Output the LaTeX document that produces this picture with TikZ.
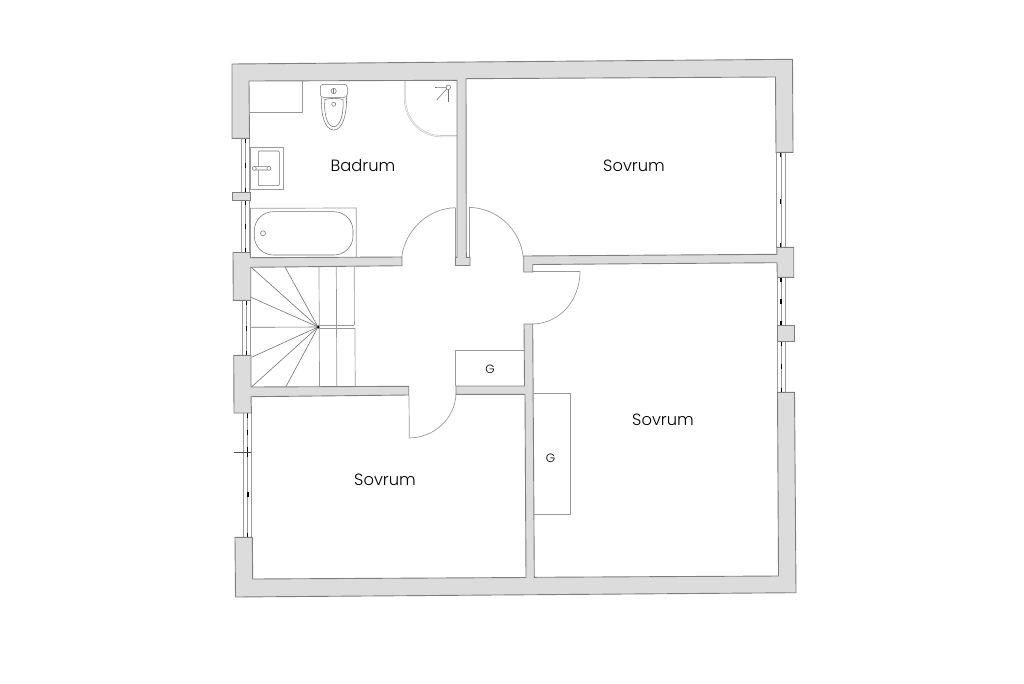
\documentclass[tikz,border=0pt]{standalone}
\usepackage{fontspec}
\setmainfont{Poppins Light}
\definecolor{wallfill}{HTML}{DCDCDC}
\definecolor{walledge}{HTML}{7E7E7E}
\definecolor{thin}{HTML}{999999}
\tikzset{
  wall/.style={fill=wallfill,draw=walledge,line width=0.9pt,line join=miter},
  fine/.style={draw=thin,line width=0.7pt},
  fix/.style={draw=black!55,line width=0.55pt},
  shower/.style={draw=black!22,line width=0.6pt},
  dashmark/.style={draw=black,line width=1.3pt},
  roomlabel/.style={font=\fontsize{16.3}{16.3}\selectfont,text=black,inner sep=0pt},
  gaplabel/.style={font=\fontsize{12}{12}\selectfont,text=black,inner sep=0pt}
}
\begin{document}
\begin{tikzpicture}[x=1pt,y=-1pt]
\useasboundingbox (0,0) rectangle (1024,683);
% windows
\foreach \xa/\xb/\xc/\ya/\yb in {241.3/249.5/245.4/138/193, 241.5/249.7/245.6/200/253, 242.5/250.5/246.5/300/356, 243/251.5/247.5/413/538, 776.5/785/780.7/152/248, 777/785.3/781/277/326, 777.5/785.7/781.5/341/393}{
  \draw[fine] (\xa,\ya) -- (\xa,\yb);
  \draw[fine] (\xb,\ya) -- (\xb,\yb);
  \draw[draw=thin,line width=0.4pt] (\xc,\ya) -- (\xc,\yb);
  \draw[dashmark] (\xc,\ya) -- (\xc,\ya+5);
  \draw[dashmark] (\xc,\yb-5) -- (\xc,\yb);
}
\foreach \xc/\ya in {245.4/163, 245.6/224, 246.5/326, 780.8/199, 781.1/299, 781.6/364, 247.6/430, 247.9/492}{
  \draw[dashmark] (\xc,\ya) -- (\xc,\ya+5);
}
\draw[dashmark] (247.7,447) -- (247.7,457);
\draw[draw=black!70,line width=0.6pt] (234,452) -- (251,452);
% bath, sink, counter
\draw[fine] (249,112.3) -- (302.7,112.3) -- (302.7,81);
\draw[fine] (250.5,147.7) rectangle (283.3,189.3);
\draw[fix,rounded corners=1pt] (258.3,151) rectangle (279.3,185.7);
\draw[fix,fill=white,rounded corners=1.5pt] (254.3,166.7) rectangle (268.5,170);
\draw[fix,fill=white] (254.3,168.4) circle (2);
\draw[fix,fill=white] (268.8,168.4) circle (2);
\draw[fine] (250.7,208.3) -- (356.3,208) -- (356.3,257.3);
\draw[fine] (250.7,208.3) -- (250.7,257.3);
\draw[fix,rounded corners=19pt] (254.3,211.7) rectangle (353,255);
\draw[fix] (263,233.3) circle (2.5);
% toilet
\draw[fix,rounded corners=3pt] (320.3,84.3) rectangle (347.3,97.3);
\draw[fix] (333.7,91) circle (2.6);
\draw[fix] (333.7,88.4) -- (333.7,93.6);
\draw[fix] (321.7,97.3) .. controls (320.5,115) and (325,130) .. (333.7,130) .. controls (342.4,130) and (347,115) .. (346.5,97.3);
\draw[fix] (325,99.5) .. controls (323.5,113) and (327,126.7) .. (333.7,126.7) .. controls (340.4,126.7) and (344,113) .. (343,99.5) .. controls (338,98) and (330,98) .. (325,99.5);
\draw[fix] (333.7,104.3) circle (2);
% shower
\draw[shower] (404.3,80) -- (404.3,98) .. controls (404.3,120) and (420,136.5) .. (441,136.8) -- (457,136.8);
\draw[shower] (405.6,80) -- (405.6,98) .. controls (405.6,119) and (421,135.2) .. (441,135.5) -- (457,135.5);
\draw[fix] (448.3,87.3) circle (2.3);
\draw[fix] (435,87.5) -- (446,87.3);
\draw[fix] (436.7,100) -- (446.6,89);
\draw[fix] (448.3,89.6) -- (448.3,102);
% stairs
\coordinate (hub) at (318,327);
\foreach \ex/\ey in {251/267, 285/267, 251/297.3, 251/327.3, 251.5/357.3, 251.5/387, 285.7/387}{
  \draw[draw=black!55,line width=0.6pt] (hub) -- (\ex,\ey);
}
\draw[fine] (319,266.5) -- (319.5,387);
\draw[fine] (336.3,266.5) -- (336.8,387);
\draw[fine] (354.3,266.5) -- (354.4,325);
\draw[fine] (355,328.3) -- (355.2,387);
\draw[fine] (318,325) -- (354.4,325);
\draw[fine] (318,328.3) -- (355,328.3);
\fill[black] (318.3,327) circle (1.3);
% closets
\draw[fine] (524,350.7) -- (455,350.7) -- (455,386);
\draw[fine] (533.5,393.3) -- (570,393.3) -- (570,514.3) -- (533.5,514.3);
% doors
\draw[fine] (455.3,257) -- (455.3,207.7);
\draw[fine] (455.3,207.7) .. controls (427,208.5) and (405,231) .. (401.7,257);
\draw[fine] (469,257) -- (469,207.3);
\draw[fine] (469,207.3) .. controls (497,208) and (520,229) .. (523.3,257);
\draw[fine] (532,271.3) -- (580,271.3);
\draw[fine] (580,271.3) .. controls (580,300) and (560,323.5) .. (532.7,324);
\draw[fine] (409,395) -- (409.3,438);
\draw[fine] (409.3,438) .. controls (435,437.5) and (455,418) .. (456,394);
% walls
\draw[wall] (232,64) -- (792.5,59.3) -- (793,152.3) -- (776,152.3) -- (775.5,77) -- (466,78.7) -- (466.3,257.3) -- (470,257.3) -- (470,265.5) -- (455.5,265.5) -- (455.5,257.3) -- (457,257.3) -- (457,80.3) -- (249,81) -- (249.5,138.3) -- (232,138.3) -- cycle;
\draw[wall] (232.3,192.7) rectangle (250,200.7);
\draw[wall] (233,252.5) -- (250,252.5) -- (250.5,257.7) -- (402,257) -- (402,265.7) -- (250.7,267.3) -- (250.7,300.3) -- (233.3,300.3) -- cycle;
\draw[wall] (233.7,355.3) -- (251,355.3) -- (251,387) -- (408.7,386.3) -- (408.7,395) -- (251,396.7) -- (251.5,413) -- (234,413) -- cycle;
\draw[wall] (523.7,256) -- (777,254.3) -- (776.7,247.3) -- (793.7,247.3) -- (793.7,277.3) -- (777.3,277.3) -- (777,262.7) -- (532.7,264.5) -- (532.7,272) -- (523.7,272) -- cycle;
\draw[wall] (777,325.3) rectangle (794.3,341.7);
\draw[wall] (235,537.3) -- (252.3,537.3) -- (252.7,579) -- (526,577.5) -- (525,394.3) -- (456,394.3) -- (456,386) -- (524.5,386) -- (524,324) -- (532.7,324) -- (534.3,577.3) -- (778.5,576) -- (777.5,392.3) -- (794.5,392.3) -- (796,592.7) -- (235.5,597) -- cycle;
% labels
\node[roomlabel] (bad) at (363,166) {Badrum};
\node[roomlabel] (s1) at (634,166) {Sovrum};
\node[roomlabel] (s2) at (663,420) {Sovrum};
\node[roomlabel] (s3) at (385,480) {Sovrum};
\node[gaplabel] (g1) at (490,369.5) {G};
\node[gaplabel] (g2) at (550.5,458.5) {G};
\end{tikzpicture}
\end{document}
